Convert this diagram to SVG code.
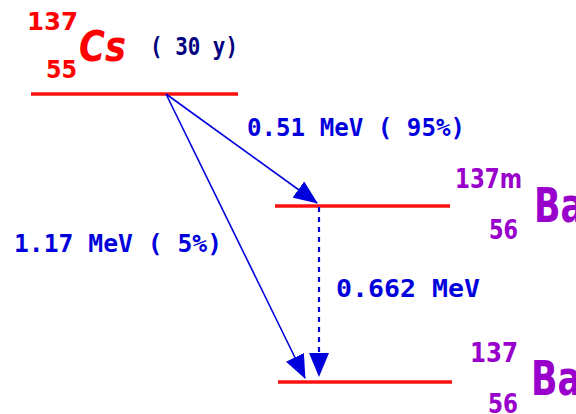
<svg xmlns="http://www.w3.org/2000/svg" width="576" height="414" viewBox="0 0 576 414">
<defs>
<style>
.lvl{stroke:#ff1010;stroke-width:3.5;fill:none}
.arr{stroke:#0000dd;stroke-width:1.6;fill:none}
.dot{stroke:#0000dd;stroke-width:2.2;stroke-dasharray:5 5;fill:none}
.mono{font-family:"DejaVu Sans Mono","Liberation Mono",monospace;font-weight:bold;fill:#0000dd;font-size:25px}
.red{font-family:"DejaVu Sans","Liberation Sans",sans-serif;font-weight:bold;fill:#ff0000}
.pur{font-family:"DejaVu Sans","Liberation Sans",sans-serif;font-weight:bold;fill:#9900cc}
</style>
<marker id="ah" markerUnits="userSpaceOnUse" markerWidth="24" markerHeight="20" refX="23" refY="10" orient="auto" viewBox="0 0 24 20">
<path d="M0,0 L24,10 L0,20 z" fill="#0000dd"/>
</marker>
</defs>
<g id="cs">
<line class="lvl" x1="31" y1="94" x2="238" y2="94"/>
<text class="red" x="27" y="30" font-size="24" textLength="51" lengthAdjust="spacingAndGlyphs">137</text>
<text class="red" x="46" y="78" font-size="24" textLength="31" lengthAdjust="spacingAndGlyphs">55</text>
<text class="red" x="79" y="61" font-size="42" font-style="italic" font-family="Liberation Sans,sans-serif" textLength="47" lengthAdjust="spacingAndGlyphs">Cs</text>
<text class="mono" x="150" y="55" style="fill:#000080" textLength="88" lengthAdjust="spacingAndGlyphs">( 30 y)</text>
</g>
<g id="ba137m">
<line class="lvl" x1="275" y1="206" x2="450" y2="206"/>
<text class="pur" x="455" y="188" font-size="26" textLength="67" lengthAdjust="spacingAndGlyphs">137m</text>
<text class="pur" x="489" y="239" font-size="26" textLength="29" lengthAdjust="spacingAndGlyphs">56</text>
<text class="pur" x="534" y="222" font-size="48" textLength="50" lengthAdjust="spacingAndGlyphs">Ba</text>
</g>
<g id="ba137">
<line class="lvl" x1="278" y1="382" x2="452" y2="382"/>
<text class="pur" x="470" y="362" font-size="26" textLength="48" lengthAdjust="spacingAndGlyphs">137</text>
<text class="pur" x="488" y="413" font-size="26" textLength="30" lengthAdjust="spacingAndGlyphs">56</text>
<text class="pur" x="531" y="395" font-size="48" textLength="50" lengthAdjust="spacingAndGlyphs">Ba</text>
</g>
<g id="connectors">
<line class="arr" x1="166" y1="94" x2="317" y2="203" marker-end="url(#ah)"/>
<line class="arr" x1="166" y1="94" x2="305" y2="378" marker-end="url(#ah)"/>
<line class="dot" x1="319" y1="207" x2="319" y2="376" marker-end="url(#ah)"/>
<text class="mono" x="247" y="136" textLength="218" lengthAdjust="spacingAndGlyphs">0.51 MeV ( 95%)</text>
<text class="mono" x="14" y="252" textLength="208" lengthAdjust="spacingAndGlyphs">1.17 MeV ( 5%)</text>
<text class="mono" x="336" y="297" textLength="144" lengthAdjust="spacingAndGlyphs">0.662 MeV</text>
</g>
</svg>
